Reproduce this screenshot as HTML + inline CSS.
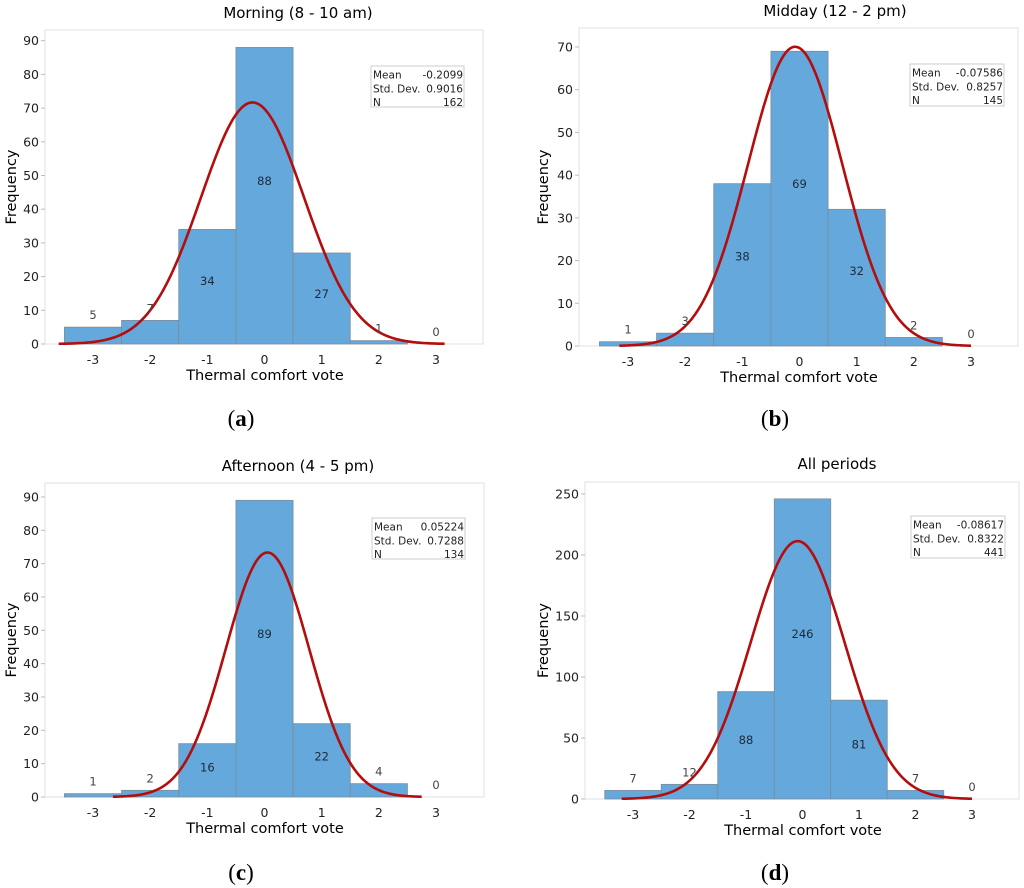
<!DOCTYPE html>
<html><head><meta charset="utf-8"><style>
body{margin:0;background:#fff;}
svg{display:block;font-family:"DejaVu Sans","Liberation Sans",sans-serif;}
</style></head><body>
<svg id="fig" width="1024" height="888" viewBox="0 0 1024 888" xmlns="http://www.w3.org/2000/svg"></svg>
<script>
const categories = [-3, -2, -1, 0, 1, 2, 3];
const countsA = [5, 7, 34, 88, 27, 1, 0];
const countsB = [1, 3, 38, 69, 32, 2, 0];
const countsC = [1, 2, 16, 89, 22, 4, 0];
const countsD = [7, 12, 88, 246, 81, 7, 0];
const titles = ["Morning (8 - 10 am)", "Midday (12 - 2 pm)", "Afternoon (4 - 5 pm)", "All periods"];
const letters = ["a", "b", "c", "d"];
const means = [-0.2099, -0.07586, 0.05224, -0.08617];
const sds = [0.9016, 0.8257, 0.7288, 0.8322];
const ns = [162, 145, 134, 441];
const meanLabels = ["-0.2099", "-0.07586", "0.05224", "-0.08617"];
const sdLabels = ["0.9016", "0.8257", "0.7288", "0.8322"];
const yTicksA = [0,10,20,30,40,50,60,70,80,90];
const yTicksB = [0,10,20,30,40,50,60,70];
const yTicksC = [0,10,20,30,40,50,60,70,80,90];
const yTicksD = [0,50,100,150,200,250];
const curveRanges = [[-3.6,3.15],[-3.15,3.0],[-2.65,2.75],[-3.2,3.0]];

const L = [
 {fl:45,ft:30,fr:483,fb:344,x0:93,x1:436,yTop:40.7,yMax:90,tc:298,ty:18,xlc:265,xly:380,lc:241,ly:426,yt:16,sb:[371,66,93,41]},
 {fl:579,ft:28,fr:1018,fb:346,x0:628,x1:971,yTop:47,yMax:70,tc:835,ty:16,xlc:799,xly:382,lc:775,ly:426,yt:548,sb:[910,64,94,42]},
 {fl:45,ft:483,fr:484,fb:797,x0:93,x1:436,yTop:497,yMax:90,tc:298,ty:471,xlc:265,xly:833,lc:241,ly:880,yt:16,sb:[372,518,93,41]},
 {fl:585,ft:482,fr:1019,fb:799,x0:633,x1:972,yTop:494,yMax:250,tc:837,ty:469,xlc:803,xly:835,lc:775,ly:880,yt:548,sb:[911,516,94,42]}
];
const allCounts=[countsA,countsB,countsC,countsD];
const allTicks=[yTicksA,yTicksB,yTicksC,yTicksD];
const NS="http://www.w3.org/2000/svg";
const svg=document.getElementById('fig');
function mk(tag,attrs,parent,text){const e=document.createElementNS(NS,tag);for(const k in attrs)e.setAttribute(k,attrs[k]);if(text!==undefined)e.textContent=text;(parent||svg).appendChild(e);return e;}

for(let p=0;p<4;p++){
 const g=L[p],counts=allCounts[p],ticks=allTicks[p];
 const grp=mk('g',{});
 
 
 const xs=v=>g.x0+(v-categories[0])*(g.x1-g.x0)/(categories[categories.length-1]-categories[0]);
 const ys=v=>g.fb-v*(g.fb-g.yTop)/g.yMax;
 const fr=mk('rect',{x:g.fl,y:g.ft,width:g.fr-g.fl,height:g.fb-g.ft,fill:'none',stroke:'#e2e2e2','stroke-width':1},grp);
 
 
 const t=mk('text',{x:g.tc,y:g.ty,'text-anchor':'middle','font-size':15,fill:'#000'},grp,titles[p]);
 
 
 ticks.forEach(v=>{
  mk('line',{x1:g.fl-4,x2:g.fl,y1:ys(v),y2:ys(v),stroke:'#bbb'},grp);
  const tl=mk('text',{x:g.fl-6,y:ys(v)+4.5,'text-anchor':'end','font-size':12.5,fill:'#222'},grp,String(v));
  
  
 });
 categories.forEach(c=>{
  const tl=mk('text',{x:xs(c),y:g.fb+20,'text-anchor':'middle','font-size':12.5,fill:'#222'},grp,String(c));
  
  
 });
 const bw=xs(1)-xs(0);
 counts.forEach((c,i)=>{
  const x=xs(categories[i])-bw/2;
  const b=mk('rect',{x:x,y:ys(c),width:bw,height:g.fb-ys(c),fill:'#64a8dc',stroke:'#7d8c99','stroke-width':0.8},grp);
  
  
 });
 const [a0,a1]=curveRanges[p];let d='';
 for(let k=0;k<=200;k++){const v=a0+(a1-a0)*k/200;const f=ns[p]/(sds[p]*Math.sqrt(2*Math.PI))*Math.exp(-0.5*((v-means[p])/sds[p])**2);d+=(k?'L':'M')+xs(v).toFixed(2)+' '+ys(f).toFixed(2);}
 const cv=mk('path',{d:d,fill:'none',stroke:'#b30d0d','stroke-width':2.6},grp);
 
 
 counts.forEach((c,i)=>{
  const big=c>0.15*g.yMax;
  const y=big?ys(c*0.55)+4:ys(c)-8;
  const vl=mk('text',{x:xs(categories[i]),y:y,'text-anchor':'middle','font-size':11.5,fill:big?'#1c2a38':'#444'},grp,String(c));
  
  
 });
 const [sx,sy,sw,sh]=g.sb;
 const box=mk('rect',{x:sx,y:sy,width:sw,height:sh,fill:'#fff',stroke:'#ccc','stroke-width':1},grp);
 
 
 const rows=[["Mean",meanLabels[p]],["Std. Dev.",sdLabels[p]],["N",String(ns[p])]];
 rows.forEach((r,j)=>{
  mk('text',{x:sx+2,y:sy+12.5+j*13.8,'font-size':10.5,fill:'#222'},grp,r[0]);
  mk('text',{x:sx+sw-1,y:sy+12.5+j*13.8,'font-size':10.5,'text-anchor':'end',fill:'#222'},grp,r[1]);
 });
 const xl=mk('text',{x:g.xlc,y:g.xly,'text-anchor':'middle','font-size':14.5,fill:'#000'},grp,'Thermal comfort vote');
 
 
 const cy=(g.ft+g.fb)/2;
 const yl=mk('text',{x:g.yt,y:cy,'text-anchor':'middle','font-size':14.5,fill:'#000',transform:'rotate(-90 '+g.yt+' '+cy+')'},grp,'Frequency');
 
 
 const pl=mk('text',{x:g.lc,y:g.ly,'text-anchor':'middle','font-size':23,'font-family':'Liberation Serif, serif',fill:'#000'},grp,'');
 
 
 mk('tspan',{},pl,'(');mk('tspan',{'font-weight':'bold'},pl,letters[p]);mk('tspan',{},pl,')');
}
</script>
</body></html>
